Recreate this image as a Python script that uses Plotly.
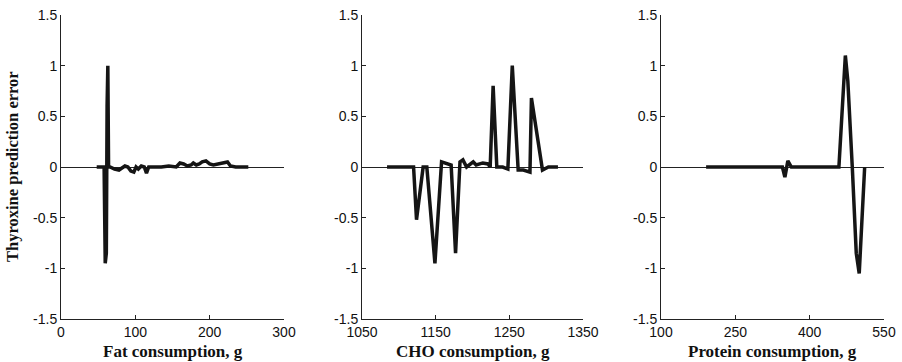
import plotly.graph_objects as go

# ---- data ----
fat_x = [48, 55, 58, 59.5, 61, 62, 63, 64, 66, 72, 78, 82, 86, 90, 94, 98, 101, 104, 108, 112,
         115, 118, 125, 135, 145, 155, 160, 165, 170, 175, 178, 182, 186, 190, 195, 200, 205,
         212, 218, 224, 228, 235, 245, 252]
fat_y = [0, 0, 0, -0.95, -0.85, 0.6, 1.0, 0.0, 0.0, -0.02, -0.03, -0.01, 0.01, 0.0, -0.04,
         -0.05, 0.0, -0.02, 0.01, 0.0, -0.06, 0.0, 0.0, 0.0, 0.01, 0.0, 0.04, 0.03, 0.01, 0.02,
         0.04, 0.02, 0.03, 0.05, 0.06, 0.03, 0.02, 0.03, 0.04, 0.05, 0.01, 0.0, 0.0, 0.0]

cho_x = [1084, 1100, 1120, 1124, 1133, 1138, 1149, 1158, 1171, 1177, 1183, 1187, 1192, 1201,
         1205, 1214, 1221, 1224, 1228, 1233, 1241, 1248, 1254, 1262, 1269, 1278, 1280, 1295,
         1303, 1316]
cho_y = [0, 0, 0, -0.52, 0.0, 0.0, -0.95, 0.05, 0.02, -0.85, 0.05, 0.07, 0.0, 0.05, 0.02,
         0.04, 0.03, 0.0, 0.8, 0.0, 0.0, -0.02, 1.0, -0.03, -0.03, -0.05, 0.68, -0.03, 0.0, 0.0]

pro_x = [191, 250, 300, 345, 350, 356, 363, 400, 440, 459, 472, 477, 486, 494, 500, 511]
pro_y = [0, 0, 0, 0, -0.1, 0.06, 0.0, 0.0, 0.0, 0.0, 1.1, 0.85, 0.0, -0.85, -1.05, 0.0]

x_titles = ["Fat consumption, g", "CHO consumption, g", "Protein consumption, g"]
y_title = "Thyroxine prediction error"
x_ranges = [[0, 300], [1050, 1350], [100, 550]]
x_tickvals = [[0, 100, 200, 300], [1050, 1150, 1250, 1350], [100, 250, 400, 550]]
y_ticks = [-1.5, -1, -0.5, 0, 0.5, 1, 1.5]
y_ticktext = ["-1.5", "-1", "-0.5", "0", "0.5", "1", "1.5"]

series = [(fat_x, fat_y), (cho_x, cho_y), (pro_x, pro_y)]

W, H = 902, 362
x_doms = [(61, 284), (362, 583), (661, 884)]
y_top, y_bot = 15, 319
y_dom = [1 - y_bot / H, 1 - y_top / H]

TICKFONT = dict(family="Liberation Sans, Arial", size=14, color="#111")
TITLEFONT = dict(family="Liberation Serif, Times New Roman", size=17, color="#111")
YTITLEFONT = dict(family="Liberation Serif, Times New Roman", size=16.5, color="#111")

fig = go.Figure()
annotations = []
for i, (xs, ys) in enumerate(series):
    n = "" if i == 0 else str(i + 1)
    fig.add_trace(go.Scatter(x=xs, y=ys, mode="lines",
                             line=dict(color="#151515", width=3.5),
                             xaxis="x" + n, yaxis="y" + n, showlegend=False))
    fig.layout["xaxis" + n] = dict(
        domain=[x_doms[i][0] / W, x_doms[i][1] / W], anchor="y" + n,
        range=x_ranges[i], tickvals=x_tickvals[i],
        ticktext=[str(v) for v in x_tickvals[i]],
        showgrid=False, zeroline=False, showline=True, linecolor="#222", linewidth=1,
        ticks="inside", ticklen=4, tickcolor="#222", automargin=False,
        tickfont=TICKFONT,
    )
    fig.layout["yaxis" + n] = dict(
        domain=y_dom, anchor="x" + n, range=[-1.5, 1.5],
        tickvals=y_ticks, ticktext=y_ticktext,
        showgrid=False, zeroline=True, zerolinecolor="#222", zerolinewidth=1,
        showline=True, linecolor="#222", linewidth=1,
        ticks="inside", ticklen=4, tickcolor="#222", automargin=False,
        tickfont=TICKFONT,
    )
    annotations.append(dict(
        text="<b>" + x_titles[i] + "</b>", xref="paper", yref="paper",
        x=(x_doms[i][0] + x_doms[i][1]) / 2 / W, y=1 - 351 / H,
        xanchor="center", yanchor="middle", showarrow=False, font=TITLEFONT))

annotations.append(dict(
    text="<b>" + y_title + "</b>", xref="paper", yref="paper",
    x=12 / W, y=1 - (y_top + y_bot) / 2 / H, textangle=-90,
    xanchor="center", yanchor="middle", showarrow=False, font=YTITLEFONT))

fig.update_layout(width=W, height=H, margin=dict(l=0, r=0, t=0, b=0),
                  paper_bgcolor="white", plot_bgcolor="white",
                  annotations=annotations)
fig.write_html("out.html")
